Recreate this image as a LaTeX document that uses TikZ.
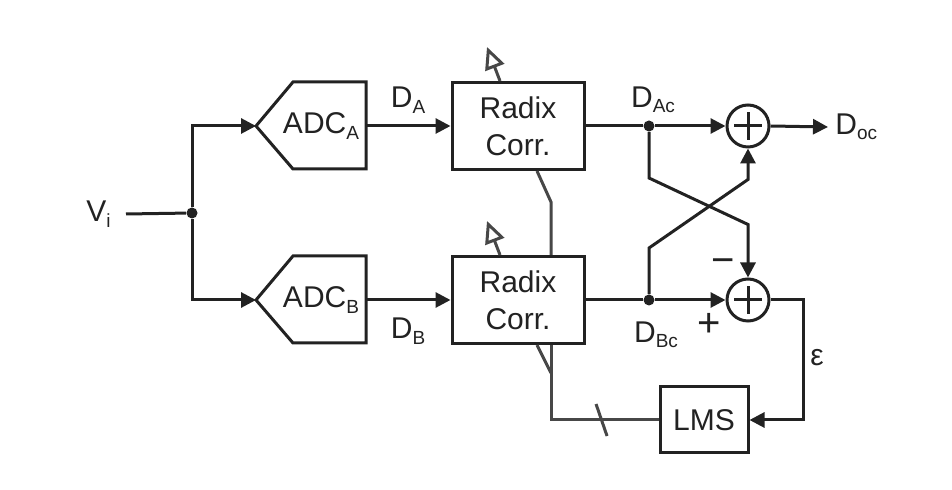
\documentclass[tikz,border=0pt]{standalone}
\usepackage{fontspec}
\setmainfont{Liberation Sans}
\usetikzlibrary{arrows.meta,calc}
\definecolor{wirec}{HTML}{222222}
\definecolor{busc}{HTML}{474747}
\newcommand{\subtx}[1]{\raisebox{-0.35ex}{\fontsize{9.5}{9.5}\selectfont #1}}
\tikzset{
	txt/.style={font=\fontsize{15}{18.5}\selectfont, text=wirec},
	block/.style={txt, draw=wirec, line width=1.5pt, fill=white, align=center, minimum width=66pt, minimum height=43.5pt, inner sep=0pt},
	adctext/.style={txt, inner sep=0pt},
	sum/.style={draw=wirec, circle, line width=1.5pt, fill=white, minimum size=21pt, inner sep=0pt,
		path picture={\draw[line width=1.5pt, wirec]
			([xshift=-7pt]path picture bounding box.center) -- ([xshift=7pt]path picture bounding box.center)
			([yshift=-7pt]path picture bounding box.center) -- ([yshift=7pt]path picture bounding box.center);}},
	dot/.style={circle, fill=wirec, minimum size=5.5pt, inner sep=0pt},
	lbl/.style={txt, inner sep=2pt},
	sign/.style={font=\fontsize{20}{20}\selectfont, text=wirec, inner sep=0pt},
	wire/.style={draw=wirec, line width=1.5pt},
	flow/.style={wire, -{Triangle[length=7.5pt, width=7.5pt]}},
	bus/.style={draw=busc, line width=1.5pt},
	tune/.style={bus, -{Triangle[open, length=11pt, width=10pt]}}
}
\begin{document}
\begin{tikzpicture}[x=0.5pt, y=-0.5pt]
	\useasboundingbox (0,0) rectangle (952,490);
	% input and split
	\node[lbl, anchor=east, inner xsep=7.5pt] (vin) at (126,214) {V\subtx{i}};
	\node[dot] (split) at (192,213) {};
	% two sub-ADCs
	\node[adctext] (adcA) at (321,126) {ADC\subtx{A}};
	\node[adctext] (adcB) at (321,300) {ADC\subtx{B}};
	\draw[wire] (adcA.center) ++(-65,0) coordinate (adcAin) -- ++(37,-44) -- ++(73,0) -- ++(0,87) -- ++(-73,0) -- cycle;
	\draw[wire] (adcB.center) ++(-65,0) coordinate (adcBin) -- ++(37,-44) -- ++(73,0) -- ++(0,87) -- ++(-73,0) -- cycle;
	\coordinate (adcAout) at ($(adcA.center)+(45,0)$);
	\coordinate (adcBout) at ($(adcB.center)+(45,0)$);
	% radix correction
	\node[block] (radA) at (518,126) {Radix\\Corr.};
	\node[block] (radB) at (518,300) {Radix\\Corr.};
	% combining
	\node[sum] (sumA) at (748,126) {};
	\node[sum] (sumB) at (748,300) {};
	\node[dot] (tapA) at (649,126) {};
	\node[dot] (tapB) at (649,300) {};
	\node[block, minimum width=44pt, minimum height=33pt] (lms) at (704,420) {LMS};
	\node[lbl, anchor=west, inner xsep=3.5pt] (dout) at (828,127) {D\subtx{oc}};
	\coordinate (eright) at (803,300);
	\coordinate (bend) at (551,420);
	\coordinate (fork) at (551,373);
	\coordinate (kneeA) at (551,202);
	% labels
	\node[lbl] at (408,100) {D\subtx{A}};
	\node[lbl] at (408,331) {D\subtx{B}};
	\node[lbl] at (653,100) {D\subtx{Ac}};
	\node[lbl] at (656,335) {D\subtx{Bc}};
	\node[sign] at (723,266) {−};
	\node[sign] at (709,325) {+};
	\node[lbl] at (817,358) {ε};
	% signal path
	\draw[wire] (vin.east) -- (split);
	\draw[flow] (split) |- (adcAin);
	\draw[flow] (split) |- (adcBin);
	\draw[flow] (adcAout) -- (radA.west);
	\draw[flow] (adcBout) -- (radB.west);
	\draw[wire] (radA.east) -- (tapA);
	\draw[wire] (radB.east) -- (tapB);
	\draw[flow] (tapA) -- (sumA.west);
	\draw[flow] (tapB) -- (sumB.west);
	\draw[flow] (sumA.east) -- (dout.west);
	\draw[flow] (tapA) -- ++(0,52) -- ($(sumB.north)+(0,-53)$) -- (sumB.north);
	\draw[flow] (tapB) -- ++(0,-52) -- ($(sumA.south)+(0,31)$) -- (sumA.south);
	\draw[flow] (sumB.east) -- (eright) |- (lms.east);
	% coefficient update
	\draw[bus] (lms.west) -- (bend) -- ([xshift=16.5pt]radB.south);
	\draw[bus] (fork) -- ([xshift=9.5pt]radB.south);
	\draw[bus] ([xshift=16.5pt]radB.north) -- (kneeA) -- ([xshift=9.5pt]radA.south);
	\draw[bus] ($(bend)!0.47!(lms.west)$) +(-5.5,-16) -- +(5.5,16);
	\draw[tune] ([xshift=-9pt]radA.north) -- ++(-13,-34);
	\draw[tune] ([xshift=-9pt]radB.north) -- ++(-13,-34);
\end{tikzpicture}
\end{document}
